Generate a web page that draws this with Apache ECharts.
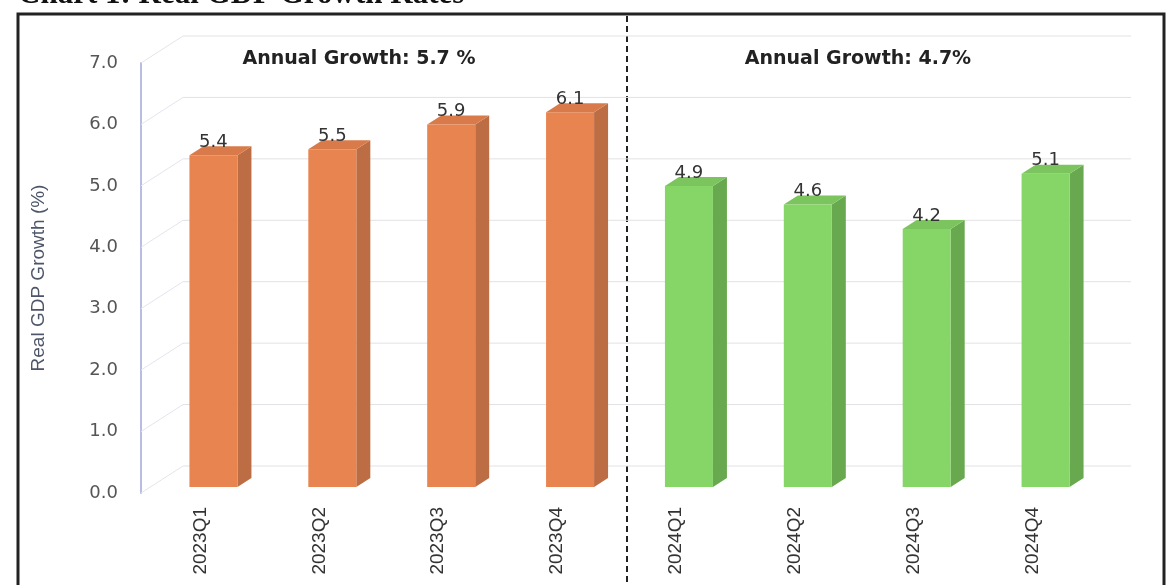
<!DOCTYPE html>
<html>
<head>
<meta charset="utf-8">
<script src="https://cdn.jsdelivr.net/npm/echarts@6/dist/echarts.min.js"></script>
<style>
  html, body { margin: 0; padding: 0; background: #fff; }
  #chart { width: 1174px; height: 585px; }
</style>
</head>
<body>
<div id="chart"></div>
<script>
// data
const quarters2023 = ['2023Q1', '2023Q2', '2023Q3', '2023Q4']
const growth2023 = [5.4, 5.5, 5.9, 6.1]
const quarters2024 = ['2024Q1', '2024Q2', '2024Q3', '2024Q4']
const growth2024 = [4.9, 4.6, 4.2, 5.1]
const yTicks = [0, 1, 2, 3, 4, 5, 6, 7]
const annualLabels = ['Annual Growth: 5.7 %', 'Annual Growth: 4.7%']
const categories = quarters2023.concat(quarters2024)

// 3d look
const WALL_DX = 42
const WALL_DY = 27
const BAR_SHIFT = 13
const BAR_LIFT = 6
const BAR_HALF = 24
const BAR_DX = 14
const BAR_DY = 9

const chart = echarts.init(document.getElementById('chart'))

// 背景墙 + 网格线
function renderWall (params, api) {
  const cs = params.coordSys
  const v = api.value(0)
  const y = api.coord([0, v])[1]
  const x0 = cs.x
  const x1 = cs.x + cs.width + WALL_DX - 3
  return {
    type: 'group',
    children: [
      {
        type: 'line',
        shape: { x1: x0, y1: y, x2: x0 + WALL_DX, y2: y - WALL_DY },
        style: { stroke: '#e4e4ee', lineWidth: 1 }
      },
      {
        type: 'line',
        shape: { x1: x0 + WALL_DX, y1: y - WALL_DY, x2: x1, y2: y - WALL_DY },
        style: { stroke: '#e2e2e6', lineWidth: 1 }
      }
    ]
  }
}

// 立体柱子
function barRenderer (front, side, top) {
  return function (params, api) {
    const base = api.coord([api.value(0), 0])
    const peak = api.coord([api.value(0), api.value(1)])
    const cx = base[0] + BAR_SHIFT
    const yb = base[1] - BAR_LIFT
    const yt = peak[1] - BAR_LIFT
    const xl = cx - BAR_HALF
    const xr = cx + BAR_HALF
    return {
      type: 'group',
      children: [
        {
          type: 'polygon',
          shape: { points: [[xr, yb], [xr + BAR_DX, yb - BAR_DY], [xr + BAR_DX, yt - BAR_DY], [xr, yt]] },
          style: { fill: side }
        },
        {
          type: 'polygon',
          shape: { points: [[xl, yt], [xr, yt], [xr + BAR_DX, yt - BAR_DY], [xl + BAR_DX, yt - BAR_DY]] },
          style: { fill: top }
        },
        {
          type: 'rect',
          shape: { x: xl, y: yt, width: xr - xl, height: yb - yt },
          style: { fill: front }
        },
        {
          type: 'text',
          x: cx,
          y: yt - 4,
          style: {
            text: api.value(1).toFixed(1),
            align: 'center',
            verticalAlign: 'bottom',
            font: '18px "DejaVu Sans"',
            fill: '#333'
          }
        }
      ]
    }
  }
}

const option = {
  animation: false,
  grid: { left: 141, right: 82, top: 63, bottom: 92 },
  xAxis: {
    type: 'category',
    data: categories,
    axisLine: { show: false },
    axisTick: { show: false },
    axisLabel: {
      rotate: 90,
      margin: 14,
      fontFamily: 'Liberation Sans',
      fontSize: 19,
      color: '#333'
    }
  },
  yAxis: {
    type: 'value',
    min: 0,
    max: 7,
    interval: 1,
    name: 'Real GDP Growth (%)',
    nameLocation: 'middle',
    nameGap: 93,
    nameTextStyle: { fontFamily: 'Liberation Sans', fontSize: 19, color: '#4d5568' },
    axisLine: { show: true, lineStyle: { color: '#b9bde2', width: 2 } },
    axisTick: { show: false },
    splitLine: { show: false },
    axisLabel: {
      margin: 23,
      fontFamily: 'DejaVu Sans',
      fontSize: 18,
      color: '#555',
      formatter: v => v.toFixed(1)
    }
  },
  graphic: [
    {
      type: 'text',
      x: 18,
      y: 10,
      style: { text: 'Chart 1: Real GDP Growth Rates', font: 'bold 31px "Liberation Serif"', fill: '#111', verticalAlign: 'bottom' }
    },
    {
      type: 'rect',
      shape: { x: 18, y: 14, width: 1146, height: 640 },
      style: { fill: 'none', stroke: '#222', lineWidth: 3 }
    },
    {
      type: 'line',
      shape: { x1: 627, y1: 16, x2: 627, y2: 585 },
      style: { stroke: '#222', lineWidth: 2, lineDash: [6, 4] }
    },
    {
      type: 'text',
      x: 359,
      y: 59,
      style: { text: annualLabels[0], align: 'center', verticalAlign: 'middle', font: 'bold 19px "DejaVu Sans"', fill: '#222' }
    },
    {
      type: 'text',
      x: 858,
      y: 59,
      style: { text: annualLabels[1], align: 'center', verticalAlign: 'middle', font: 'bold 19px "DejaVu Sans"', fill: '#222' }
    }
  ],
  series: [
    {
      type: 'custom',
      name: 'wall',
      silent: true,
      z: 1,
      data: yTicks.map(v => [v]),
      encode: { y: 0 },
      renderItem: renderWall
    },
    {
      type: 'custom',
      name: '2023',
      z: 3,
      data: quarters2023.map((q, i) => [q, growth2023[i]]),
      encode: { x: 0, y: 1 },
      renderItem: barRenderer('#e8844f', '#bd6d44', '#d97a4a')
    },
    {
      type: 'custom',
      name: '2024',
      z: 3,
      data: quarters2024.map((q, i) => [q, growth2024[i]]),
      encode: { x: 0, y: 1 },
      renderItem: barRenderer('#86d567', '#68a94f', '#7cc45e')
    }
  ]
}

chart.setOption(option)
</script>
</body>
</html>
